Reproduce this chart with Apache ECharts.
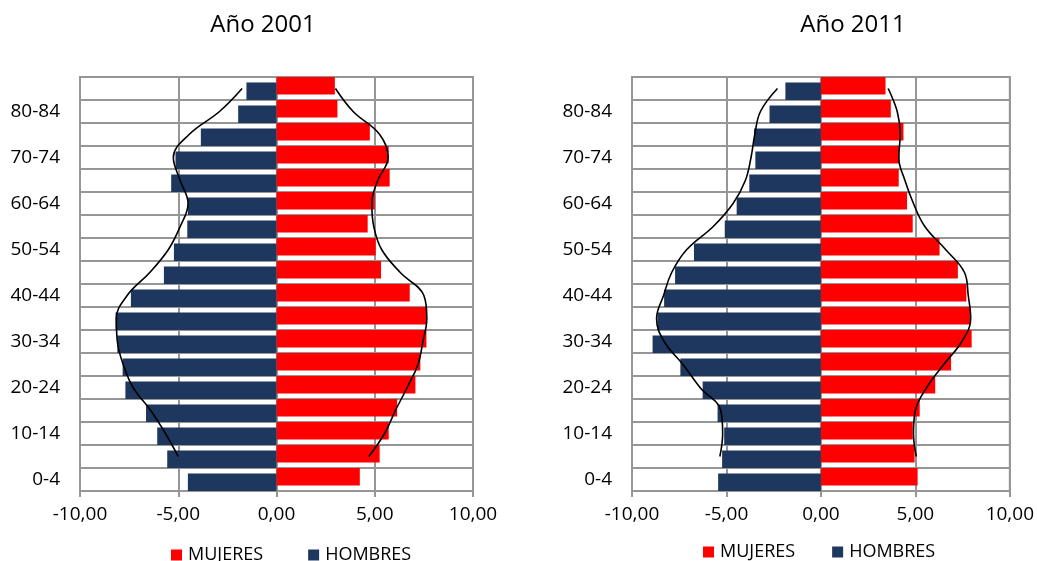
<!DOCTYPE html>
<html>
<head>
<meta charset="utf-8">
<script src="https://cdn.jsdelivr.net/npm/echarts@6/dist/echarts.min.js"></script>
<style>
html,body{margin:0;padding:0;background:#fff;}
#chart{width:1037px;height:561px;}
</style>
</head>
<body>
<div id="chart"></div>
<script>
const categories = ['0-4','5-9','10-14','15-19','20-24','25-29','30-34','35-39','40-44','45-49','50-54','55-59','60-64','65-69','70-74','75-79','80-84','85+'];
const xTicks = [-10, -5, 0, 5, 10];

const hombres2001 = [-4.51,-5.56,-6.07,-6.64,-7.69,-7.83,-8.10,-8.19,-7.41,-5.73,-5.22,-4.54,-4.51,-5.36,-5.14,-3.85,-1.95,-1.53];
const mujeres2001 = [4.24,5.25,5.71,6.14,7.07,7.32,7.63,7.66,6.78,5.32,5.05,4.64,5.00,5.76,5.71,4.75,3.10,2.97];
const hombres2011 = [-5.44,-5.23,-5.12,-5.47,-6.26,-7.44,-8.91,-8.65,-8.30,-7.72,-6.72,-5.09,-4.46,-3.79,-3.47,-3.54,-2.72,-1.88];
const mujeres2011 = [5.12,4.96,4.86,5.23,6.05,6.89,7.98,7.89,7.70,7.25,6.28,4.86,4.56,4.12,4.16,4.37,3.70,3.42];

// hand-drawn outline curves
const curve2001L = [null,-5.0,-5.65,-6.4,-7.3,-7.8,-8.1,-8.15,-7.6,-6.45,-5.5,-4.9,-4.5,-4.9,-5.25,-4.45,-2.9,-1.75];
const curve2001R = [null,4.7,5.5,6.05,6.65,7.2,7.45,7.65,7.5,6.3,5.35,4.95,4.85,5.15,5.68,5.25,3.9,3.0];
const curve2011L = [null,-5.35,-5.2,-5.3,-6.4,-7.3,-8.3,-8.7,-8.33,-7.9,-7.1,-5.7,-4.65,-4.0,-3.7,-3.5,-3.2,-2.3];
const curve2011R = [null,5.05,4.9,5.0,5.6,6.5,7.46,7.93,7.8,7.6,6.6,5.5,4.9,4.45,4.12,4.2,4.04,3.56];

const titles = ['Año 2001', 'Año 2011'];
const seriesNames = ['MUJERES', 'HOMBRES'];

const FONT = 'Open Sans';
const RED = '#FF0000';
const BLUE = '#1D375F';
const GRIDC = '#969696';

const chart = echarts.init(document.getElementById('chart'));

function fmt(v){ return v.toFixed(2).replace('.', ','); }

function xAxisDef(idx){
  return {
    type: 'value', gridIndex: idx, min: xTicks[0], max: xTicks[xTicks.length-1], interval: 5,
    axisLine: {show: false},
    axisTick: {show: true, length: 6, lineStyle: {color: GRIDC, width: 2}},
    axisLabel: {formatter: fmt, fontFamily: FONT, fontSize: 19, color: '#000', margin: 14},
    splitLine: {show: true, lineStyle: {color: GRIDC, width: 2}}
  };
}
function yAxisDef(idx){
  return {
    type: 'category', gridIndex: idx, data: categories, boundaryGap: true,
    axisLine: {show: false, onZero: false},
    axisTick: {show: false},
    axisLabel: {interval: 1, fontFamily: FONT, fontSize: 19, color: '#000', margin: 20},
    splitLine: {show: true, interval: 0, lineStyle: {color: GRIDC, width: 2}}
  };
}
function curve(idx, arr){
  return {
    type: 'line', xAxisIndex: idx, yAxisIndex: idx, smooth: 0.4, symbol: 'none',
    data: arr.map((v, i) => v === null ? [null, i] : [v, i]),
    connectNulls: false,
    lineStyle: {color: '#000', width: 1.6}, z: 5, silent: true
  };
}
function bars(idx, m, h){
  return [
    {name: seriesNames[0], type: 'bar', xAxisIndex: idx, yAxisIndex: idx, data: m,
     barWidth: 17.5, barGap: '-69%', itemStyle: {color: RED}},
    {name: seriesNames[1], type: 'bar', xAxisIndex: idx, yAxisIndex: idx, data: h,
     barWidth: 17.5, barGap: '-69%', itemStyle: {color: BLUE}}
  ];
}

const option = {
  animation: false,
  backgroundColor: '#fff',
  title: [
    {text: titles[0], left: 258, top: 8, textAlign: 'center', textStyle: {fontFamily: FONT, fontSize: 24, fontWeight: 'normal', color: '#000'}},
    {text: titles[1], left: 848, top: 8, textAlign: 'center', textStyle: {fontFamily: FONT, fontSize: 24, fontWeight: 'normal', color: '#000'}}
  ],
  legend: [
    {data: seriesNames, left: 166, top: 541, itemWidth: 11, itemHeight: 11, itemGap: 45, icon: 'rect',
     textStyle: {fontFamily: FONT, fontSize: 18, color: '#000', padding: [0,0,0,1]}},
    {data: seriesNames, left: 698, top: 538, itemWidth: 11, itemHeight: 11, itemGap: 37, icon: 'rect',
     textStyle: {fontFamily: FONT, fontSize: 18, color: '#000', padding: [0,0,0,1]}}
  ],
  grid: [
    {left: 80, width: 393, top: 77, height: 414, show: true, borderColor: GRIDC, borderWidth: 2, backgroundColor: 'transparent'},
    {left: 632, width: 379, top: 77, height: 414, show: true, borderColor: GRIDC, borderWidth: 2, backgroundColor: 'transparent'}
  ],
  xAxis: [xAxisDef(0), xAxisDef(1)],
  yAxis: [yAxisDef(0), yAxisDef(1)],
  series: [
    ...bars(0, mujeres2001, hombres2001),
    ...bars(1, mujeres2011, hombres2011),
    curve(0, curve2001L), curve(0, curve2001R),
    curve(1, curve2011L), curve(1, curve2011R)
  ]
};
chart.setOption(option);
</script>
</body>
</html>
